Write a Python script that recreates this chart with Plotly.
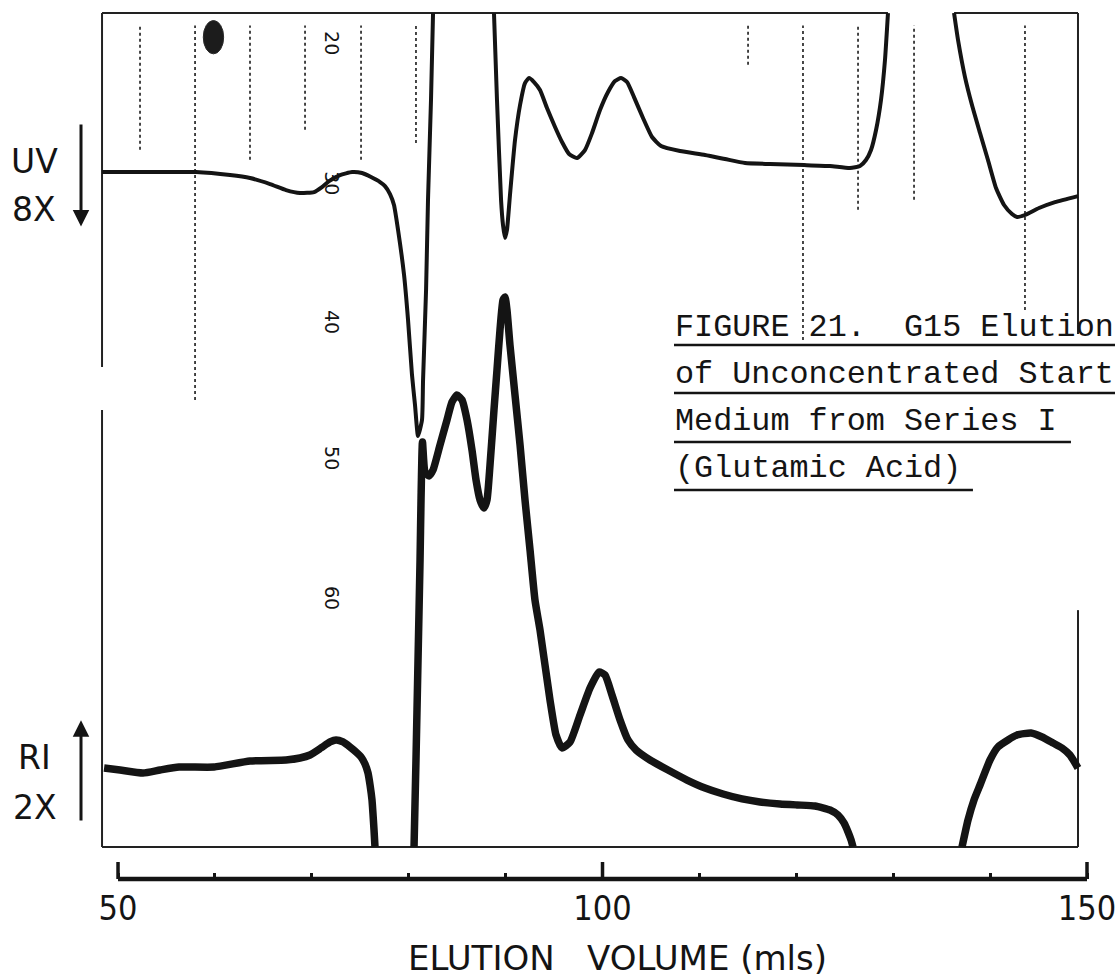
import plotly.graph_objects as go

# Recorder traces: elution volume (ml) against pen deflection (% of chart width).
# None marks where a pen runs off the chart and leaves no line.
uv_volume_ml = [
    48.35, 53.30, 58.05, 61.56, 63.62, 65.69, 67.34, 68.78, 70.23, 71.05, 71.78,
    72.91, 74.15, 75.18, 76.11, 77.04, 77.55, 78.07, 78.48, 78.90, 79.52, 79.93,
    80.34, 80.65, 80.96, 81.37, 81.48, 81.79, 81.99, 82.30, 82.51, None,
    88.80, 89.11, 89.53, 89.73, 89.94, 90.14, 90.45, 90.97, 91.49, 92.00, 92.42,
    92.93, 93.55, 94.27, 95.10, 95.82, 96.55, 97.37, 98.19, 98.92, 99.74, 100.57,
    101.29, 101.91, 102.53, 103.25, 104.18, 105.11, 106.04, 108.00, 110.58,
    112.64, 114.71, 117.29, 120.80, 123.48, 125.54, 126.57, 127.19, 127.71,
    128.23, 128.74, 129.15, 129.46, None,
    136.28, 136.69, 137.41, 138.13, 138.96, 139.78, 140.61, 141.44, 142.26,
    142.78, 143.60, 145.05, 146.70, 149.07,
]
uv_signal = [
    80.93, 80.93, 80.93, 80.57, 80.21, 79.49, 78.77, 78.41, 78.53, 79.13, 79.85,
    80.57, 80.93, 80.81, 80.33, 79.73, 79.25, 78.29, 76.98, 73.98, 68.58, 63.19,
    56.59, 52.99, 49.28, 51.20, 55.99, 66.78, 77.57, 89.57, 100.0, None,
    100.0, 89.57, 77.57, 74.58, 73.02, 73.98, 78.17, 84.77, 88.97, 91.60, 92.20,
    91.72, 90.76, 88.60, 86.33, 84.53, 83.09, 82.61, 83.57, 85.61, 88.36, 90.52,
    91.84, 92.20, 91.72, 89.92, 87.41, 85.13, 84.05, 83.45, 82.97,
    82.49, 82.01, 81.89, 81.77, 81.65, 81.41, 81.65, 82.37, 83.57,
    85.97, 89.57, 94.36, 100.0, None,
    100.0, 96.76, 92.32, 88.97, 85.61, 82.37, 79.01, 76.98, 75.90,
    75.54, 75.78, 76.62, 77.33, 78.05,
]

ri_volume_ml = [
    48.56, 50.21, 52.58, 54.33, 56.30, 59.91, 63.62, 67.34, 68.78, 69.81, 70.95,
    71.88, 72.50, 73.22, 73.94, 74.56, 75.08, 75.49, 75.80, 76.01, 76.21, 76.32,
    76.42, 76.52, None,
    80.55, 80.75, 80.96, 81.17, 81.27, 81.42, 81.68, 82.09, 82.51, 83.23, 83.95,
    84.47, 84.98, 85.50, 86.02, 86.53, 86.95, 87.36, 87.77, 88.08, 88.39, 88.80,
    89.11, 89.42, 89.73, 89.94, 90.14, 90.45, 90.97, 91.49, 92.00, 92.52, 93.03,
    93.55, 94.58, 95.20, 95.82, 96.65, 97.68, 98.71, 99.64, 100.26, 100.98,
    101.81, 102.63, 103.46, 104.90, 106.76, 108.72, 110.58, 112.44, 114.40,
    116.25, 118.32, 120.07, 121.93, 123.48, 124.30, 124.92, 125.34, 125.65,
    125.85, None,
    137.10, 137.72, 138.34, 138.96, 139.99, 140.81, 141.85, 142.78, 144.22,
    145.36, 146.49, 147.42, 148.24, 149.07,
]
ri_signal = [
    9.47, 9.23, 8.87, 9.23, 9.59, 9.59, 10.31, 10.43, 10.67, 11.03, 11.87,
    12.59, 12.83, 12.59, 11.99, 11.39, 10.79, 9.95, 8.87, 7.43, 5.64, 3.84,
    2.04, 0.0, None,
    0.0, 10.43, 22.42, 34.41, 41.61, 48.56, 44.96, 44.48, 45.20, 48.20, 51.20,
    53.36, 54.19, 53.60, 51.20, 47.60, 44.00, 41.61, 40.65, 41.61, 45.80, 52.40,
    57.19, 61.99, 65.59, 65.95, 64.39, 60.19, 54.19, 48.20, 41.61, 35.61, 29.62,
    26.02, 17.63, 13.43, 11.87, 12.59, 15.83, 19.06, 20.98, 20.62, 18.22,
    15.23, 12.83, 11.63, 10.43, 9.23, 8.03, 7.07, 6.35, 5.76,
    5.40, 5.16, 5.04, 4.92, 4.44, 3.84, 2.88, 1.80, 0.84,
    0.0, None,
    0.0, 3.24, 5.64, 7.43, 10.43, 11.99, 12.83, 13.43, 13.67,
    13.19, 12.47, 11.87, 11.03, 9.47,
]

scale_ticks_ml = [50, 60, 70, 80, 90, 100, 110, 120, 130, 140, 150]
scale_labels = ["50", "", "", "", "", "100", "", "", "", "", "150"]

caption_lines = [
    "FIGURE 21.  G15 Elution",
    "of Unconcentrated Start",
    "Medium from Series I",
    "(Glutamic Acid)",
]
chart_paper_numbers = ["20", "30", "40", "50", "60"]

INK = "#141414"
LETTER_FONT = "DejaVu Sans, sans-serif"
DIGIT_FONT = "DejaVu Sans Condensed, DejaVu Sans, sans-serif"
TYPE_FONT = "Liberation Mono, Courier New, monospace"
NB = "\u00a0"

# chart frame edges (ml, % deflection)
F_LEFT, F_RIGHT, F_BOTTOM, F_TOP = 48.35, 149.07, 0.0, 100.0

fig = go.Figure()
fig.add_trace(go.Scatter(
    x=uv_volume_ml, y=uv_signal, mode="lines", name="UV",
    line=dict(color=INK, width=4, shape="spline", smoothing=0.5),
    connectgaps=False, hoverinfo="skip",
))
fig.add_trace(go.Scatter(
    x=ri_volume_ml, y=ri_signal, mode="lines", name="RI",
    line=dict(color=INK, width=7.5, shape="spline", smoothing=0.5),
    connectgaps=False, hoverinfo="skip",
))

shapes = []


def seg(x0, y0, x1, y1, width=2, color="#222", dash="solid", xref="x", yref="y"):
    shapes.append(dict(type="line", xref=xref, yref=yref, x0=x0, y0=y0, x1=x1, y1=y1,
                       line=dict(color=color, width=width, dash=dash), layer="below"))


# chart frame, broken where the pen left no border
seg(F_LEFT, F_BOTTOM, F_LEFT, 52.4)
seg(F_LEFT, 57.55, F_LEFT, F_TOP)
seg(F_LEFT, F_TOP, 129.46, F_TOP)
seg(136.28, F_TOP, F_RIGHT, F_TOP)
seg(F_RIGHT, F_TOP, F_RIGHT, 61.5)
seg(F_RIGHT, 28.4, F_RIGHT, F_BOTTOM)
seg(F_LEFT, F_BOTTOM, F_RIGHT, F_BOTTOM)

# faint chart-paper rulings near the top of the chart
for xm, v0 in [(52.27, 83.6), (57.95, 53.6), (63.62, 82.4), (69.30, 86.0),
               (75.08, 82.4), (80.75, 84.4), (115.02, 93.8), (120.69, 60.8),
               (126.37, 76.4), (132.15, 77.6), (143.60, 64.4)]:
    seg(xm, v0, xm, 98.5, width=1.8, color="#333", dash="dot")

# ink spot on the chart paper
shapes.append(dict(type="circle", xref="x", yref="y", x0=58.8, x1=60.9, y0=95.1, y1=99.1,
                   fillcolor="#1c1c1c", line=dict(color="#2a2a2a", width=1), layer="above"))

# volume scale bar with taller end ticks
seg(50, 0, 150, 0, width=4.5, color=INK, yref="paper")
for xm in (50, 100, 150):
    seg(xm, -3.84, xm, -1.8, width=3.5, color=INK)

# caption underlines
CAP_X = 674 / 1115
for py, x1 in [(345, 1.0), (393, 1.0), (442, 0.9605), (490, 0.8726)]:
    seg(CAP_X, (879 - py) / 879, x1, (879 - py) / 879, width=2.6, color=INK,
        xref="paper", yref="paper")

annotations = []
for text, py in zip(caption_lines, [328, 375, 422, 469]):
    annotations.append(dict(text=text, xref="paper", yref="paper", x=CAP_X,
                            y=(879 - py) / 879, xanchor="left", yanchor="middle",
                            showarrow=False, borderpad=0,
                            font=dict(family=TYPE_FONT, size=31.8, color=INK)))

for text, xm, v in [("UV", 41.43, 82.2), ("8X", 41.33, 76.4),
                    ("RI", 41.33, 10.7), ("2X", 41.43, 4.7)]:
    annotations.append(dict(text=text, x=xm, y=v, xref="x", yref="y", showarrow=False,
                            xanchor="center", yanchor="middle",
                            font=dict(family=LETTER_FONT, size=33, color=INK)))

# detector direction arrows: UV absorbance downwards, RI upwards
for head, tail in [(74.4, 86.8), (15.2, 3.0)]:
    annotations.append(dict(text="", x=46.18, y=head, ax=46.18, ay=tail,
                            xref="x", yref="y", axref="x", ayref="y",
                            showarrow=True, arrowhead=2, arrowsize=1.1, arrowwidth=3,
                            arrowcolor=INK, standoff=0, startstandoff=0))

for text, v in zip(chart_paper_numbers, [96.4, 79.6, 62.95, 46.64, 29.86]):
    annotations.append(dict(text=text, x=72.08, y=v, xref="x", yref="y", showarrow=False,
                            textangle=90, font=dict(family="DejaVu Sans", size=19, color=INK)))

annotations.append(dict(text="ELUTION" + NB * 3 + "VOLUME (mls)", x=101.5, y=(879 - 958) / 879,
                        xref="x", yref="paper", showarrow=False,
                        xanchor="center", yanchor="middle",
                        font=dict(family=LETTER_FONT, size=34, color=INK)))

fig.update_layout(
    width=1115, height=980,
    margin=dict(l=0, r=0, t=0, b=101),
    paper_bgcolor="white", plot_bgcolor="white",
    showlegend=False,
    shapes=shapes, annotations=annotations,
    xaxis=dict(range=[37.82, 152.89], showgrid=False, zeroline=False, showline=False,
               tickmode="array", tickvals=scale_ticks_ml, ticktext=scale_labels,
               ticks="inside", ticklen=6, tickwidth=3, tickcolor=INK,
               ticklabeloverflow="allow", ticklabelstandoff=6,
               tickfont=dict(family=DIGIT_FONT, size=34, color=INK)),
    yaxis=dict(range=[-3.84, 101.56], visible=False),
)

fig.write_html("out.html")
